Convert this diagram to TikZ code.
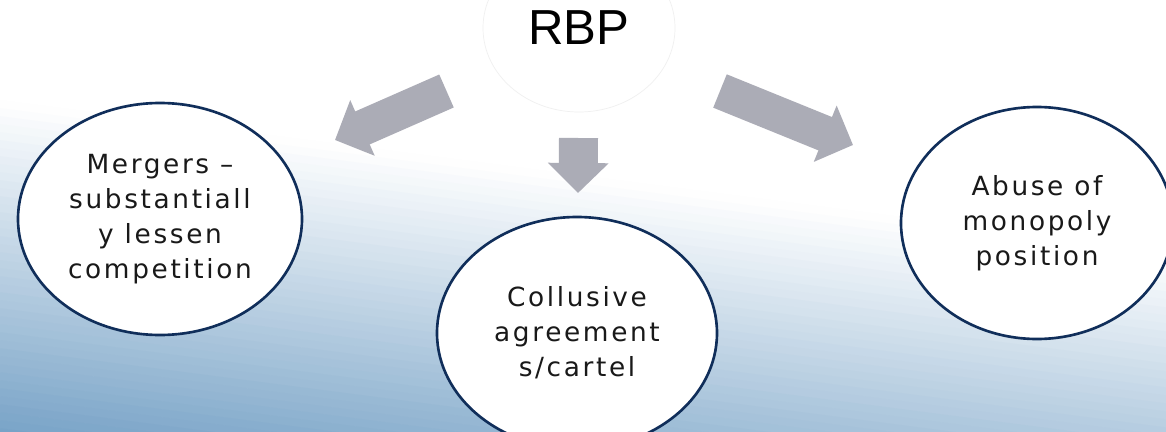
\documentclass[tikz,border=0pt]{standalone}
\usepackage{fontspec}
\setmainfont{Liberation Sans}
\newfontfamily\widesans[LetterSpace=10]{DejaVu Sans}
\usepackage{xcolor}
\usepackage{tikz}
\usetikzlibrary{shapes.geometric, arrows.meta}
\definecolor{rbpnavy}{RGB}{16,46,90}
\definecolor{rbpgray}{RGB}{171,172,182}
\definecolor{rbpsky}{RGB}{120,163,199}
\tikzstyle{bubble} = [ellipse, draw=rbpnavy, line width=1.5pt,
fill=white, inner sep=0pt, minimum width=5.6cm, minimum height=4.64cm,
align=center, text=black!90, font=\widesans\fontsize{15}{20}\selectfont]
\tikzstyle{fatarrow} = [-{Triangle[length=0.6cm, width=1.18cm]},
line width=0.72cm, draw=rbpgray]

\begin{document}
\begin{tikzpicture}
    \useasboundingbox (0,0) rectangle (23.32,8.62);
    \clip (0,0) rectangle (23.32,8.62);
    % backdrop, white going to blue at the lower left
    \fill[white] (0,0) rectangle (23.32,8.62);
    \foreach \k in {0,...,44} {
        \pgfmathtruncatemacro\p{min(100,(\k+0.5)*2.417)}
        \fill[rbpsky!\p!white] (-0.1,{6.63-\k*0.16}) -- (23.5,{3.57-\k*0.16})
        -- (23.5,{3.40-\k*0.16}) -- (-0.1,{6.46-\k*0.16}) -- cycle;
    }

    \node (rbp) [ellipse, draw=black!6, fill=white, minimum width=3.84cm,
    minimum height=3.36cm, font=\fontsize{28}{32}\selectfont] at (11.58,8.06) {RBP};
    \node (merg) [bubble, minimum width=5.68cm] at (3.20,4.24)
    {Mergers –\\substantiall\\y lessen\\competition};
    \node (coll) [bubble] at (11.54,1.96) {Collusive\\agreement\\s/cartel};
    \node (abuse) [bubble, minimum width=5.44cm] at (20.74,4.16)
    {Abuse of\\monopoly\\position};

    \coordinate (mergtail) at (8.93,6.80);
    \coordinate (mergtip) at (6.70,5.82);
    \coordinate (colltail) at (11.57,5.86);
    \coordinate (colltip) at (11.56,4.76);
    \coordinate (abusetail) at (14.40,6.80);
    \coordinate (abusetip) at (17.06,5.72);

    \draw[fatarrow] (mergtail) -- (mergtip);
    \draw[fatarrow, line width=0.78cm] (colltail) -- (colltip);
    \draw[fatarrow] (abusetail) -- (abusetip);
\end{tikzpicture}
\end{document}
